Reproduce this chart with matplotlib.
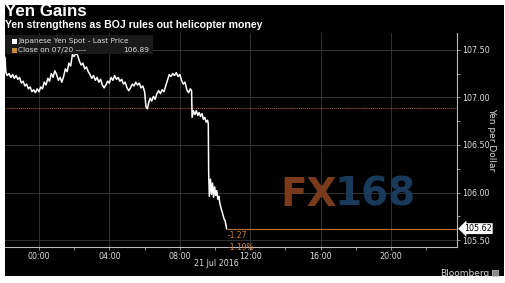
import matplotlib.pyplot as plt
from matplotlib.patches import Rectangle
from matplotlib.ticker import MultipleLocator

# USD/JPY spot, hours relative to 21 Jul 2016 00:00
hours = [-1.93, -1.88, -1.80, -1.70, -1.60, -1.50, -1.40, -1.30, -1.20, -1.10,
         -1.00, -0.90, -0.80, -0.70, -0.60, -0.50, -0.40, -0.30, -0.20, -0.10,
         0.00, 0.10, 0.20, 0.30, 0.40, 0.50, 0.60, 0.70, 0.80, 0.90,
         1.00, 1.10, 1.20, 1.30, 1.40, 1.50, 1.60, 1.70, 1.80, 1.90,
         2.00, 2.10, 2.20, 2.30, 2.40, 2.50, 2.60, 2.70, 2.80, 2.90,
         3.00, 3.10, 3.20, 3.30, 3.40, 3.50, 3.60, 3.70, 3.80, 3.90,
         4.00, 4.10, 4.20, 4.30, 4.40, 4.50, 4.60, 4.70, 4.80, 4.90,
         5.00, 5.10, 5.20, 5.30, 5.40, 5.50, 5.60, 5.70, 5.80, 5.90,
         6.00, 6.08, 6.16, 6.24, 6.32, 6.40, 6.50, 6.60, 6.70, 6.80,
         6.90, 7.00, 7.10, 7.20, 7.30, 7.40, 7.50, 7.60, 7.70, 7.80,
         7.90, 8.00, 8.10, 8.20, 8.30, 8.40, 8.50, 8.60, 8.67, 8.70,
         8.78, 8.86, 8.94, 9.02, 9.10, 9.18, 9.26, 9.34, 9.42, 9.50,
         9.58, 9.62, 9.64, 9.68, 9.74, 9.80, 9.86, 9.92, 9.98, 10.04,
         10.10, 10.16, 10.22, 10.28, 10.34, 10.40, 10.46, 10.52, 10.58, 10.62,
         10.66]
price = [107.42, 107.26, 107.23, 107.25, 107.21, 107.24, 107.20, 107.23, 107.19, 107.21,
         107.15, 107.17, 107.12, 107.14, 107.09, 107.11, 107.06, 107.08, 107.05, 107.09,
         107.06, 107.11, 107.09, 107.16, 107.13, 107.20, 107.17, 107.25, 107.21, 107.28,
         107.24, 107.18, 107.21, 107.16, 107.22, 107.30, 107.27, 107.36, 107.33, 107.45,
         107.43, 107.47, 107.44, 107.38, 107.34, 107.36, 107.30, 107.32, 107.27, 107.24,
         107.20, 107.23, 107.18, 107.21, 107.16, 107.19, 107.13, 107.10, 107.13, 107.17,
         107.15, 107.21, 107.18, 107.23, 107.19, 107.21, 107.17, 107.19, 107.14, 107.16,
         107.10, 107.07, 107.10, 107.14, 107.12, 107.16, 107.13, 107.15, 107.10, 107.12,
         107.06, 106.90, 106.88, 106.95, 106.99, 106.96, 107.01, 106.98, 107.04, 107.07,
         107.04, 107.08, 107.06, 107.12, 107.18, 107.24, 107.22, 107.25, 107.23, 107.26,
         107.22, 107.24, 107.18, 107.14, 107.16, 107.08, 107.05, 107.09, 107.07, 106.79,
         106.86, 106.82, 106.86, 106.81, 106.84, 106.80, 106.83, 106.77, 106.79, 106.74,
         106.76, 106.72, 106.22, 105.96, 106.14, 105.98, 106.10, 105.95, 106.06, 105.97,
         106.02, 105.93, 105.96, 105.88, 105.84, 105.80, 105.76, 105.72, 105.70, 105.66,
         105.62]

prev_close = 106.89
last_price = 105.62
change_abs = '-1.27'
change_pct = '-1.19%'

xtick_hours = [0, 4, 8, 12, 16, 20]
xtick_labels = ['00:00', '04:00', '08:00', '12:00', '16:00', '20:00']
ytick_vals = [105.5, 106.0, 106.5, 107.0, 107.5]

W, H = 506, 283
fig = plt.figure(figsize=(W / 100, H / 100), dpi=100, facecolor='white')
fig.patches.append(Rectangle((5 / W, 7 / H), 499 / W, 271 / H, transform=fig.transFigure,
                             facecolor='black', edgecolor='none', zorder=-5))

ax = fig.add_axes([5 / W, 1 - 247 / H, 452 / W, 214 / H])
ax.set_facecolor('black')
ax.set_xlim(hours[0], 23.75)
ax.set_ylim(105.427, 107.677)

ax.plot(hours, price, color='white', lw=1.1, zorder=4)
ax.axhline(prev_close, color='#c0602a', lw=0.7, ls=(0, (1, 1)), zorder=3)
ax.hlines(last_price, hours[-1], ax.get_xlim()[1], color='#b87333', lw=0.8, zorder=3)

ax.annotate(change_abs, xy=(hours[-1], last_price), xytext=(1, -2), textcoords='offset points',
            va='top', ha='left', fontsize=5.5, color='#d08040')
ax.annotate(change_pct, xy=(hours[-1], last_price), xytext=(1, -10), textcoords='offset points',
            va='top', ha='left', fontsize=5.5, color='#d08040')

for s in ['top', 'left']:
    ax.spines[s].set_visible(False)
for s in ['right', 'bottom']:
    ax.spines[s].set_color('#bbbbbb')
    ax.spines[s].set_linewidth(0.8)

ax.yaxis.tick_right()
ax.yaxis.set_label_position('right')
ax.set_yticks(ytick_vals)
ax.set_yticklabels([f'{v:.2f}' for v in ytick_vals])
ax.yaxis.set_minor_locator(MultipleLocator(0.25))
ax.set_xticks(xtick_hours)
ax.set_xticklabels(xtick_labels)
ax.set_xticks([2, 6, 10, 14, 18, 22], minor=True)
ax.tick_params(axis='both', which='both', colors='#aaaaaa', labelcolor='#dddddd',
               labelsize=5.8, length=2, width=0.6, pad=1.5)
ax.grid(True, which='major', color='#3a3a3a', lw=0.6)
ax.set_ylabel('Yen per Dollar', rotation=270, color='#dddddd', fontsize=6.5, labelpad=5)

ax.annotate(f'{last_price:.2f}', xy=(1, last_price), xycoords=('axes fraction', 'data'),
            xytext=(5, 0), textcoords='offset points', va='center', ha='left',
            fontsize=5.8, color='black', zorder=6,
            bbox=dict(boxstyle='larrow,pad=0.12', fc='white', ec='none'))

fig.text(216 / W, 1 - 264 / H, '21 Jul 2016', ha='center', va='center', fontsize=5.8, color='#dddddd')
fig.text(489 / W, 1 - 273 / H, 'Bloomberg', ha='right', va='center', fontsize=6.5, color='#dddddd')
fig.patches.append(Rectangle((492 / W, 1 - 276 / H), 6 / W, 6 / H, transform=fig.transFigure,
                             facecolor='#888888', edgecolor='#cccccc', lw=0.5, zorder=3))

# titles
fig.text(5 / W, 1 - 11 / H, 'Yen Gains', ha='left', va='center', fontsize=12.2,
         weight='bold', color='white', family=['Liberation Sans', 'DejaVu Sans'])
fig.text(5 / W, 1 - 25 / H, 'Yen strengthens as BOJ rules out helicopter money', ha='left',
         va='center', fontsize=7.55, weight='bold', color='white',
         family=['Liberation Sans', 'DejaVu Sans'])

# legend box
fig.patches.append(Rectangle((5 / W, 1 - 54 / H), 148 / W, 19 / H, transform=fig.transFigure,
                             facecolor='#1a1a1a', edgecolor='none', zorder=3))
fig.patches.append(Rectangle((12 / W, 1 - 43.5 / H), 4.5 / W, 4.5 / H, transform=fig.transFigure,
                             facecolor='white', edgecolor='none', zorder=4))
fig.patches.append(Rectangle((12 / W, 1 - 52.5 / H), 4.5 / W, 4.5 / H, transform=fig.transFigure,
                             facecolor='#d08a30', edgecolor='none', zorder=4))
fig.text(18 / W, 1 - 41.5 / H, 'Japanese Yen Spot - Last Price', ha='left', va='center',
         fontsize=5.3, color='#dddddd', zorder=5)
fig.text(18 / W, 1 - 50.5 / H, 'Close on 07/20 ----', ha='left', va='center',
         fontsize=5.3, color='#dddddd', zorder=5)
fig.text(149 / W, 1 - 50.5 / H, f'{prev_close:.2f}', ha='right', va='center',
         fontsize=5.3, color='#dddddd', zorder=5)

# watermark
fig.text(280 / W, 1 - 195 / H, 'FX', ha='left', va='center', fontsize=28, weight='bold',
         color='#7a3a1c', zorder=5)
fig.text(335 / W, 1 - 195 / H, '168', ha='left', va='center', fontsize=28, weight='bold',
         color='#1a3a5c', zorder=5)

fig.savefig('out.png', dpi=100, facecolor='white')
